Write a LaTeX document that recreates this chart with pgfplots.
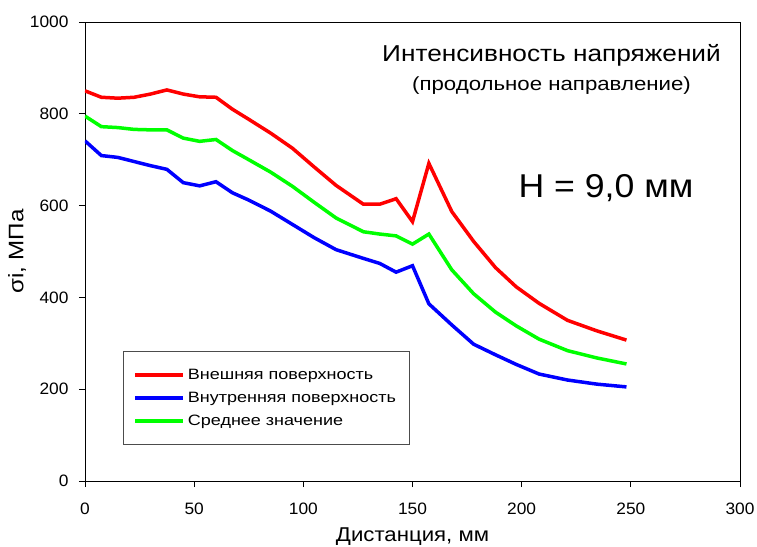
\documentclass[border=0pt]{standalone}
\usepackage{pgfplots}
\pgfplotsset{compat=1.18}
\usepackage{fontspec}
\setmainfont{Liberation Sans}
\newfontfamily\legf[FakeStretch=1.2]{Liberation Sans}
\newfontfamily\titf[FakeStretch=1.14]{Liberation Sans}
\newfontfamily\subf[FakeStretch=1.17]{Liberation Sans}
\newfontfamily\hf[FakeStretch=1.08]{Liberation Sans}
\newfontfamily\tickf[FakeStretch=1.05]{Liberation Sans}
\newfontfamily\xlf[FakeStretch=1.11]{Liberation Sans}
\newfontfamily\ylf[FakeStretch=1.15]{Liberation Sans}
\begin{document}
\begin{tikzpicture}[x=1pt,y=1pt]
\path[use as bounding box] (-85,-65) rectangle (672,481);
\begin{axis}[
  at={(0,0)}, anchor=south west,
  scale only axis, width=655pt, height=459pt,
  xmin=0, xmax=300, ymin=0, ymax=1000,
  xtick={0,50,...,300}, ytick={0,200,...,1000},
  tick align=outside, xtick pos=bottom, ytick pos=left,
  major tick length=6pt,
  tick style={black, line width=0.8pt},
  axis line style={line width=0.8pt},
  /pgf/number format/assume math mode=true,
  /pgf/number format/set thousands separator={},
  ticklabel style={font=\tickf\fontsize{16.5}{18}\selectfont},
  yticklabel style={xshift=-7pt},
  xticklabel style={yshift=-12pt},
  xlabel={\xlf Дистанция, мм}, ylabel={\ylf σi, МПа},
  xlabel style={font=\fontsize{20}{22}\selectfont, yshift=-7pt},
  ylabel style={font=\fontsize{21}{23}\selectfont, yshift=-3pt},
  legend cell align=left,
  legend image code/.code={\draw[#1, line width=3.5pt] (0pt,0pt) -- (43pt,0pt); \path (0pt,0pt) -- (48pt,0pt);},
  legend style={at={(rel axis cs:0.058,0.078)}, anchor=south west,
    font=\legf\fontsize{15}{17}\selectfont, draw=black!70, line width=0.8pt,
    inner xsep=10pt, inner ysep=16pt, row sep=7pt,
    nodes={inner xsep=3pt}},
]
\addplot[red, line width=3.5pt] coordinates {
(0,850) (7.5,836) (15,834) (22.5,836) (30,843) (37.5,852) (45,843) (52.5,837) (60,836) (67.5,810) (75,788) (85,758) (95,725) (105,684) (115,644) (127.5,603) (135,603) (142.5,615) (150,565) (157.5,692) (168,587) (178,522) (188,465) (197.5,423) (208,387) (221,350) (234.5,327) (248,307)};
\addlegendentry{Внешняя поверхность}
\addplot[blue, line width=3.5pt] coordinates {
(0,741) (7.5,709) (15,705) (22.5,696) (30,687) (37.5,679) (45,650) (52.5,643) (60,652) (67.5,628) (75,612) (85,588) (95,559) (105,530) (115,504) (127.5,485) (135,474) (142.5,455) (150,469) (157.5,386) (168,340) (178,298) (188,275) (197.5,254) (208,233) (221,220) (234.5,211) (248,205)};
\addlegendentry{Внутренняя поверхность}
\addplot[green, line width=3.5pt] coordinates {
(0,795) (7.5,772) (15,770) (22.5,766) (30,765) (37.5,765) (45,747) (52.5,740) (60,744) (67.5,720) (75,700) (85,673) (95,642) (105,607) (115,573) (127.5,543) (135,538) (142.5,534) (150,516) (157.5,538) (168,460) (178,408) (188,368) (197.5,338) (208,309) (221,284) (234.5,268) (248,255)};
\addlegendentry{Среднее значение}
\end{axis}
\node[font=\titf\fontsize{23}{26}\selectfont] at (466.5,426) {Интенсивность напряжений};
\node[font=\subf\fontsize{19}{21}\selectfont] at (466.5,395) {(продольное направление)};
\node[font=\hf\fontsize{33}{36}\selectfont] at (521,293) {H = 9,0 мм};
\end{tikzpicture}
\end{document}
